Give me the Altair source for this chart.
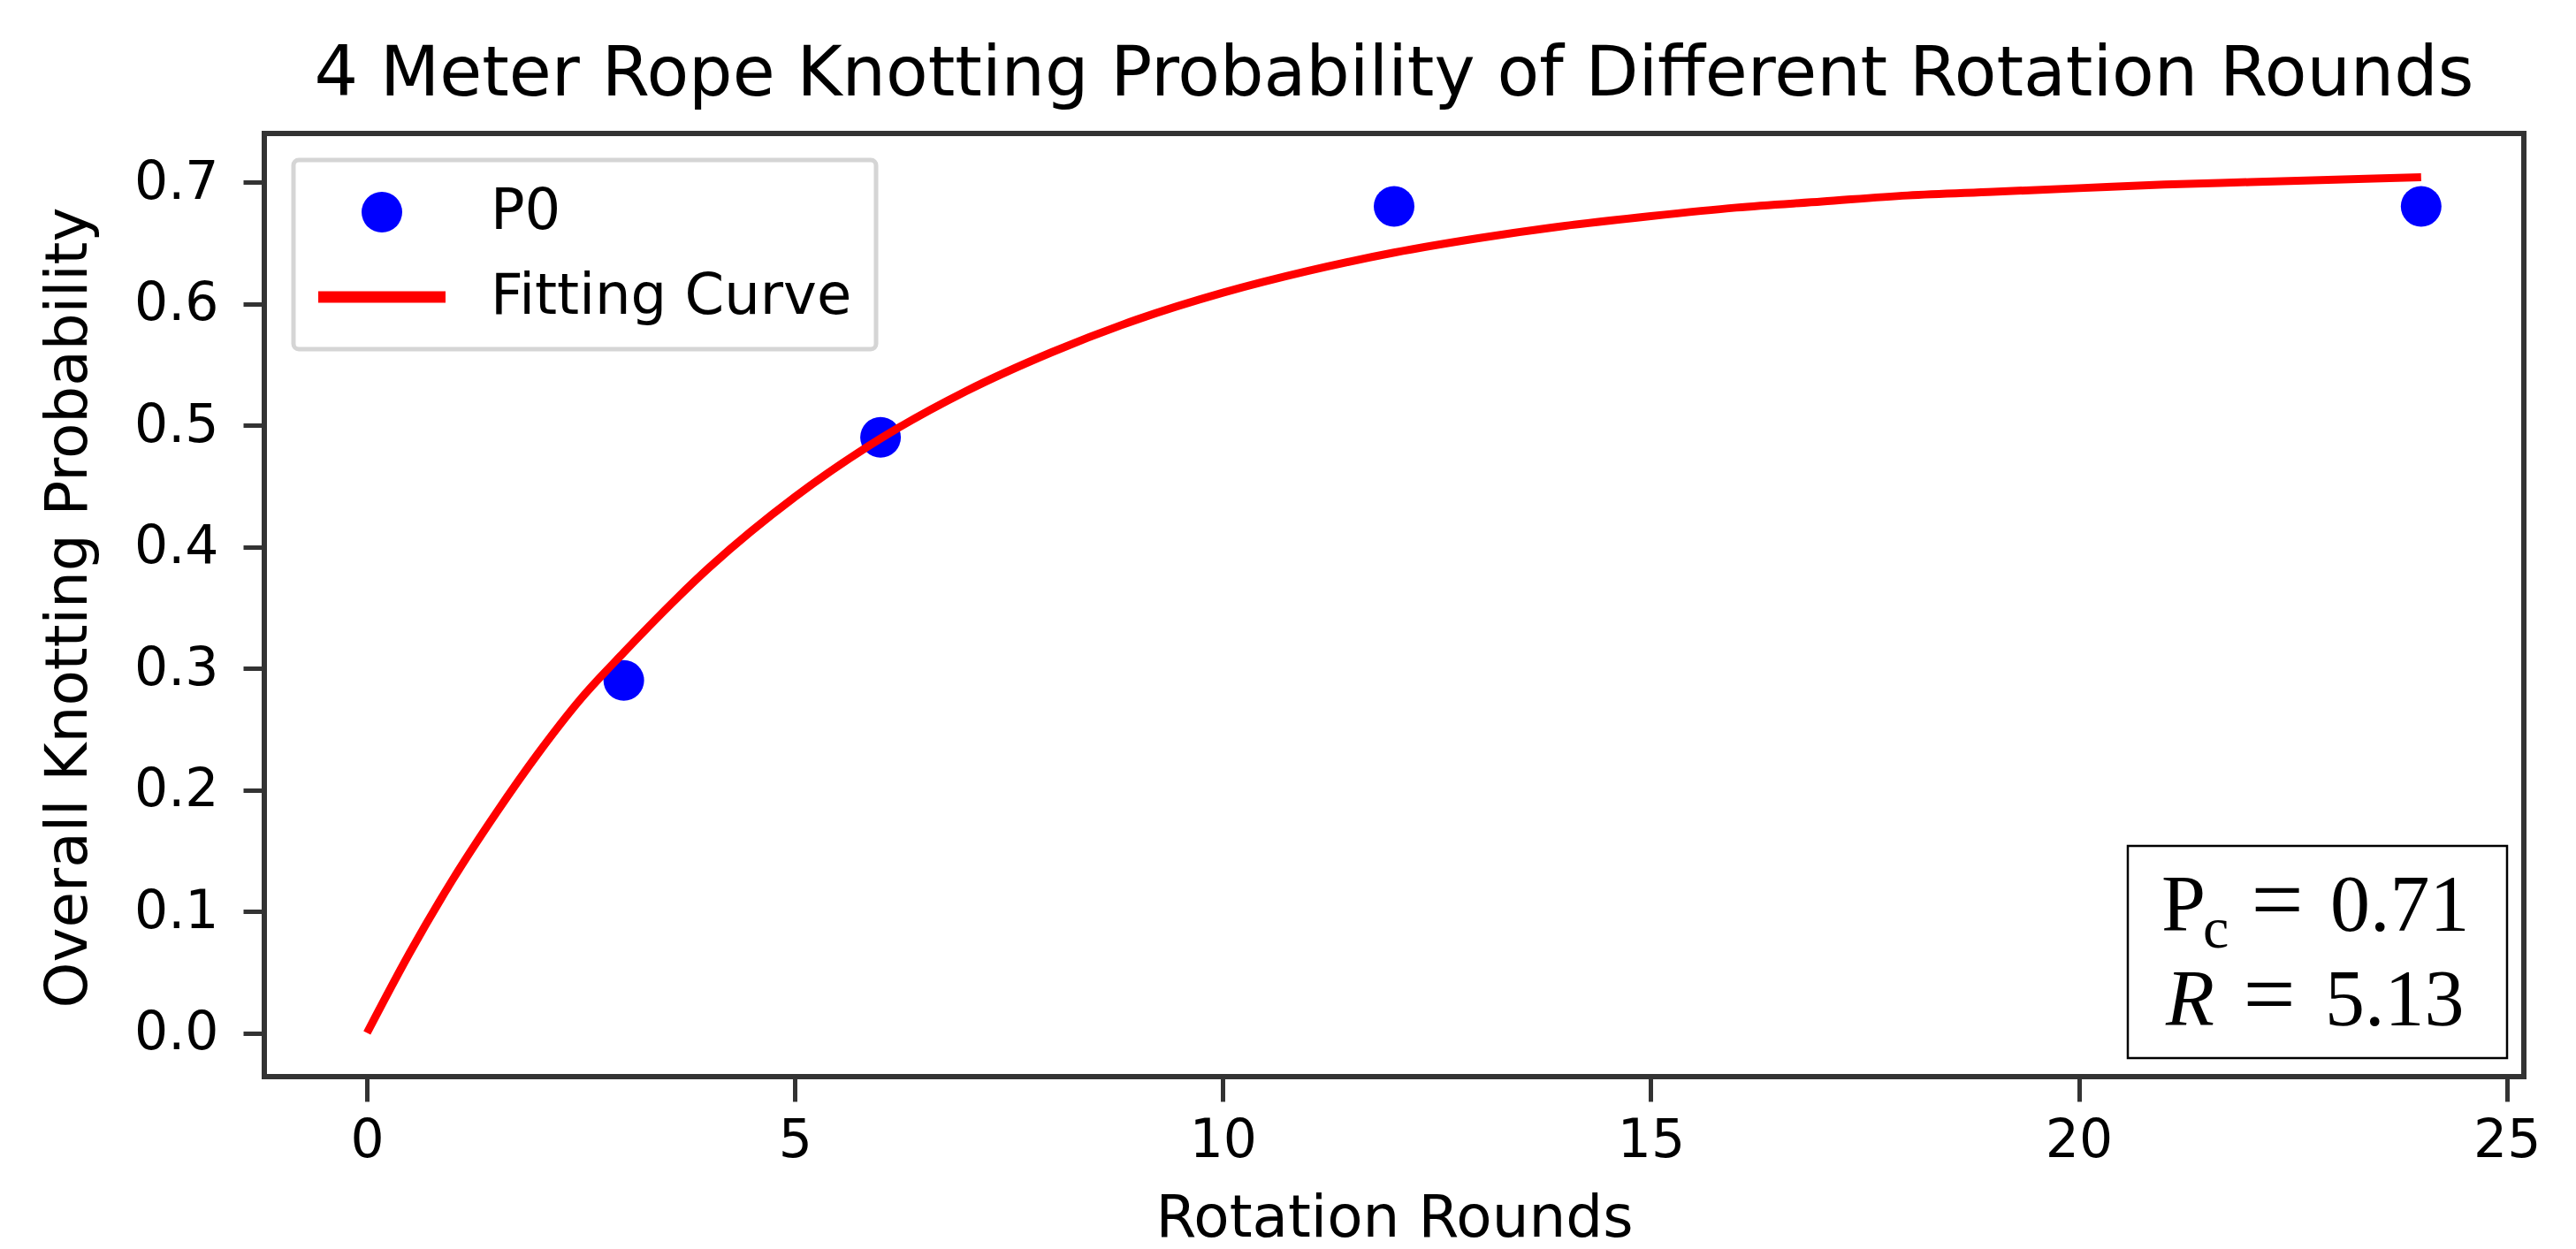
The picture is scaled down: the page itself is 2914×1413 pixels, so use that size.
import altair as alt
import pandas as pd

# ---- data ----
rounds = [3, 6, 12, 24]
p0 = [0.29, 0.49, 0.68, 0.68]

curve_x = [0, 0.5, 1, 1.5, 2, 2.5, 3, 4, 5, 6, 7, 8, 9, 10, 11, 12,
           13, 14, 15, 16, 17, 18, 19, 20, 21, 22, 23, 24]
curve_y = [0.000, 0.066, 0.126, 0.180, 0.230, 0.275, 0.313, 0.383, 0.441,
           0.489, 0.528, 0.560, 0.587, 0.609, 0.627, 0.642, 0.654, 0.664,
           0.672, 0.679, 0.684, 0.689, 0.692, 0.695, 0.698, 0.700, 0.702, 0.704]

series_names = ["P0", "Fitting Curve"]
series_colors = ["#0000ff", "#ff0000"]

x_ticks = [0, 5, 10, 15, 20, 25]
y_ticks = [0.0, 0.1, 0.2, 0.3, 0.4, 0.5, 0.6, 0.7]

title_text = "4 Meter Rope Knotting Probability of Different Rotation Rounds"
x_title = "Rotation Rounds"
y_title = "Overall Knotting Probability"
pc_value = "0.71"
r_value = "5.13"

# ---- layout ----
W, H = 2556, 1067
FONT = "DejaVu Sans"
SERIF = "Liberation Serif"

xscale = alt.Scale(domain=[-1.2, 25.2], nice=False, zero=False)
yscale = alt.Scale(domain=[-0.036, 0.740], nice=False, zero=False)

xaxis = alt.Axis(values=x_ticks, format="d", title=x_title, titleX=W / 2, titleY=180,
                 titleBaseline="alphabetic", titleAlign="center", titleFontSize=66,
                 labelFontSize=60, labelPadding=15, tickSize=28, labelFlush=False,
                 labelOverlap=False)
yaxis = alt.Axis(values=y_ticks, format=".1f", title=y_title, titleX=-202, titleY=536,
                 titleAngle=270, titleBaseline="alphabetic", titleAlign="center",
                 titleFontSize=66, labelFontSize=60, labelPadding=28, tickSize=24,
                 labelFlush=False, labelOverlap=False)

line_symbol = "M-3.13,-0.28L3.13,-0.28L3.13,0.28L-3.13,0.28Z"

legend = alt.Legend(title=None, orient="none", legendX=33, legendY=30, direction="vertical",
                    symbolSize=2116, symbolOffset=41, symbolStrokeWidth=0, symbolOpacity=1,
                    labelFontSize=64, labelFont=FONT, labelColor="black", labelOffset=91,
                    labelLimit=1000, rowPadding=32)

points_df = pd.DataFrame({"x": rounds, "y": p0, "series": ["P0"] * len(rounds)})
curve_df = pd.DataFrame({"x": curve_x, "y": curve_y})

points = alt.Chart(points_df).mark_point(filled=True, size=2116, opacity=1, strokeWidth=0).encode(
    x=alt.X("x:Q", scale=xscale, axis=xaxis),
    y=alt.Y("y:Q", scale=yscale, axis=yaxis),
    color=alt.Color("series:N", scale=alt.Scale(domain=series_names, range=series_colors), legend=legend),
    shape=alt.Shape("series:N", scale=alt.Scale(domain=series_names, range=["circle", line_symbol]), legend=legend),
)

curve = alt.Chart(curve_df).mark_line(color="#ff0000", strokeWidth=9, interpolate="monotone").encode(
    x=alt.X("x:Q", scale=xscale, axis=xaxis),
    y=alt.Y("y:Q", scale=yscale, axis=yaxis),
)

one = pd.DataFrame({"k": [0]})
box = alt.Chart(one).mark_rect(fill="white", stroke="black", strokeWidth=2.5).encode(
    x=alt.value(2108), x2=alt.value(2537), y=alt.value(806), y2=alt.value(1046)
)


def txt(s, px, py, size, style="normal", align="left"):
    return alt.Chart(one).mark_text(font=SERIF, fontSize=size, fontStyle=style, align=align,
                                    baseline="alphabetic", color="black").encode(
        x=alt.value(px), y=alt.value(py), text=alt.value(s))


texts = [
    txt("P", 2146, 902, 90),
    txt("c", 2193, 921, 66),
    txt("=", 2277, 902, 105, align="center"),
    txt(pc_value, 2337, 902, 90),
    txt("R", 2151, 1009, 90, style="italic"),
    txt("=", 2268, 1009, 105, align="center"),
    txt(r_value, 2331, 1009, 90),
]

chart = alt.layer(points, curve, box, *texts).properties(
    width=W, height=H,
    title=alt.TitleParams(title_text, fontSize=78, font=FONT, fontWeight="normal", color="black",
                          offset=-35, baseline="alphabetic", anchor="middle"),
    padding={"left": 299, "top": 151, "right": 59, "bottom": 195},
    autosize=alt.AutoSizeParams(type="none"),
    background="white",
).configure(font=FONT).configure_view(
    stroke="#333333", strokeWidth=6
).configure_axis(
    domain=False, grid=False, tickColor="#333333", tickWidth=5,
    labelFont=FONT, labelColor="black", titleFont=FONT, titleFontWeight="normal", titleColor="black"
).configure_legend(
    fillColor="white", strokeColor="#d5d5d5", strokeWidth=5, padding=27, cornerRadius=6
)

chart.save("out.html", embed_options={"renderer": "svg", "actions": False})
